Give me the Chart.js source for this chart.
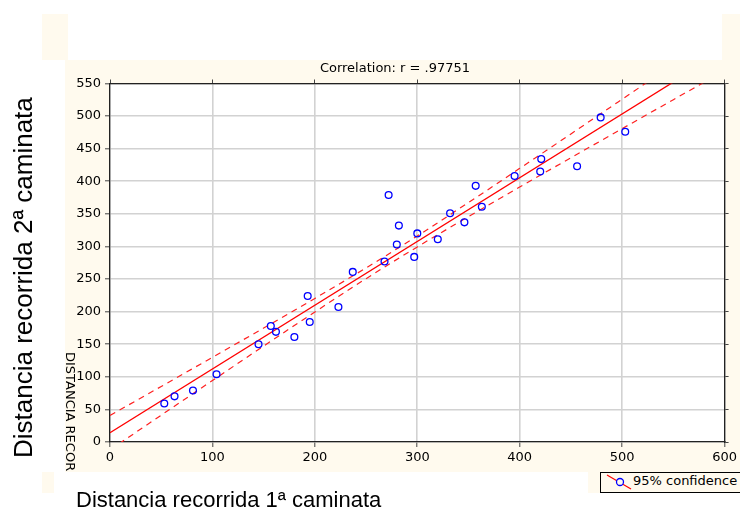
<!DOCTYPE html>
<html>
<head>
<meta charset="utf-8">
<script src="https://cdn.jsdelivr.net/npm/chart.js@4.4.1/dist/chart.umd.min.js"></script>
<style>
  body { margin: 0; background: #fff; }
  #wrap { position: relative; width: 740px; height: 510px; overflow: hidden; font-family: "Liberation Sans", Arial, sans-serif; }
  .cream { position: absolute; background: #fffaee; }
  .blank { position: absolute; background: #fff; }
  #corrChart { position: absolute; left: 0; top: 0; }
  .small { font-family: "DejaVu Sans", sans-serif; font-size: 13px; line-height: 16px; color: #000; white-space: nowrap; }
  #title { position: absolute; left: 395px; top: 60px; transform: translateX(-50%); }
  #yTitleClip { position: absolute; left: 60px; top: 352px; width: 20px; height: 120px; overflow: hidden; }
  #yTitleSmall { position: absolute; left: 17px; top: 0; transform-origin: 0 0; transform: rotate(90deg); line-height: 13px; }
  #yLabel { position: absolute; left: 10px; top: 458px; font-size: 26px; line-height: 26px; white-space: nowrap; transform-origin: 0 0; transform: rotate(-90deg); }
  #xLabel { position: absolute; left: 76px; top: 489px; font-size: 22px; line-height: 22px; white-space: nowrap; }
  #legend { position: absolute; left: 600px; top: 472px; width: 160px; height: 19px; border: 1px solid #000; background: #fffaee; }
  #legend svg { position: absolute; left: 0; top: 0; }
  #legend span { position: absolute; left: 32px; top: 0; }
</style>
</head>
<body>
<div id="wrap">
  <div class="cream" style="left:42px;top:14px;width:698px;height:479px"></div>
  <div class="blank" style="left:68px;top:0;width:654px;height:60px"></div>
  <div class="blank" style="left:0;top:60px;width:65px;height:412px"></div>
  <div class="blank" style="left:54px;top:472px;width:534px;height:38px"></div>

  <canvas id="corrChart" width="740" height="510"></canvas>

  <div id="title" class="small">Correlation: r = .97751</div>
  <div id="yTitleClip"><div id="yTitleSmall" class="small">DISTANCIA RECOR</div></div>
  <div id="yLabel">Distancia recorrida 2ª caminata</div>
  <div id="xLabel">Distancia recorrida 1ª caminata</div>
  <div id="legend">
    <svg width="40" height="19">
      <line x1="6" y1="2" x2="30" y2="16" stroke="#ff0000" stroke-width="1.2"/>
      <circle cx="19" cy="9" r="3.5" fill="#fffaee" stroke="#0000ff" stroke-width="1.3"/>
    </svg>
    <span class="small">95% confidence</span>
  </div>
</div>

<script>
// walked distance, 1st walk (x) and 2nd walk (y)
const dist1 = [53, 63, 81, 104, 145, 157, 162, 180, 193, 195, 223, 237, 268, 272, 280,
               282, 297, 300, 320, 332, 346, 357, 363, 395, 421, 420, 456, 479, 503];
const dist2 = [59, 70, 79, 104, 150, 178, 169, 161, 224, 184, 207, 261, 277, 379, 303,
               332, 284, 320, 311, 351, 337, 393, 361, 408, 434, 415, 423, 498, 476];

// regression line end points
const fitX = [0, 600];
const fitY = [14.3, 601.1];

// 95% confidence band, read at every 50 on x
const bandX     = [0, 50, 100, 150, 200, 250, 300, 350, 400, 450, 500, 550, 600];
const bandUpper = [40.7, 85.2, 129.9, 174.8, 220.3, 267.1, 316.1, 367.4, 419.8, 472.7, 525.9, 579.2, 632.5];
const bandLower = [-12.1, 41.2, 94.3, 147.2, 199.5, 250.6, 299.3, 345.8, 391.2, 436.1, 480.7, 525.2, 569.7];

const xTicks = [0, 100, 200, 300, 400, 500, 600];
const yTicks = [0, 50, 100, 150, 200, 250, 300, 350, 400, 450, 500, 550];

const pairs = (xs, ys) => xs.map((x, i) => ({ x: x, y: ys[i] }));

// white plot area on the cream page
const plotBg = {
  id: 'plotBg',
  beforeDraw(chart) {
    const a = chart.chartArea, ctx = chart.ctx;
    ctx.save();
    ctx.fillStyle = '#ffffff';
    ctx.fillRect(a.left, a.top, a.right - a.left, a.bottom - a.top);
    ctx.restore();
  }
};

Chart.defaults.font.family = '"DejaVu Sans", sans-serif';
Chart.defaults.font.size = 13;
Chart.defaults.color = '#000';

const gridOpts = { color: '#d2d2d2', lineWidth: 1.6, tickLength: 5, tickColor: '#444', tickWidth: 1 };
const borderOpts = { color: '#222', width: 1.3 };
const sideAxis = (min, max, step, w, h) => ({
  min: min, max: max,
  ticks: { display: false, stepSize: step },
  grid: { drawOnChartArea: false, tickLength: 4, tickColor: '#444', tickWidth: 1 },
  border: borderOpts,
  afterFit: s => { if (w !== undefined) s.width = w; if (h !== undefined) s.height = h; }
});

new Chart(document.getElementById('corrChart'), {
  type: 'scatter',
  data: {
    datasets: [
      {
        data: pairs(dist1, dist2),
        pointRadius: 3.4,
        pointHoverRadius: 3.4,
        pointBorderWidth: 1.3,
        borderColor: '#0000ff',
        backgroundColor: 'rgba(0,0,0,0)'
      },
      {
        data: pairs(fitX, fitY),
        showLine: true, pointRadius: 0,
        borderColor: '#ff0000', borderWidth: 1.3, clip: 0
      },
      {
        data: pairs(bandX, bandUpper),
        showLine: true, pointRadius: 0, cubicInterpolationMode: 'monotone',
        borderColor: '#ff2020', borderWidth: 1.2, borderDash: [6, 5], clip: 0
      },
      {
        data: pairs(bandX, bandLower),
        showLine: true, pointRadius: 0, cubicInterpolationMode: 'monotone',
        borderColor: '#ff2020', borderWidth: 1.2, borderDash: [6, 5], clip: 0
      }
    ]
  },
  options: {
    responsive: false,
    animation: false,
    layout: { padding: 0 },
    plugins: { legend: { display: false }, title: { display: false }, tooltip: { enabled: false } },
    scales: {
      x: {
        type: 'linear', position: 'bottom',
        min: xTicks[0], max: xTicks[xTicks.length - 1],
        afterBuildTicks: s => { s.ticks = xTicks.map(v => ({ value: v })); },
        ticks: { padding: 3 },
        grid: gridOpts, border: borderOpts,
        afterFit: s => { s.height = 68; }
      },
      y: {
        type: 'linear', position: 'left',
        min: yTicks[0], max: yTicks[yTicks.length - 1],
        afterBuildTicks: s => { s.ticks = yTicks.map(v => ({ value: v })); },
        ticks: { padding: 4 },
        grid: gridOpts, border: borderOpts,
        afterFit: s => { s.width = 110; }
      },
      x2: Object.assign({ type: 'linear', position: 'top' }, sideAxis(0, 600, 100, undefined, 83.5)),
      y2: Object.assign({ type: 'linear', position: 'right' }, sideAxis(0, 550, 50, 13.5, undefined))
    }
  },
  plugins: [plotBg]
});
</script>
</body>
</html>
